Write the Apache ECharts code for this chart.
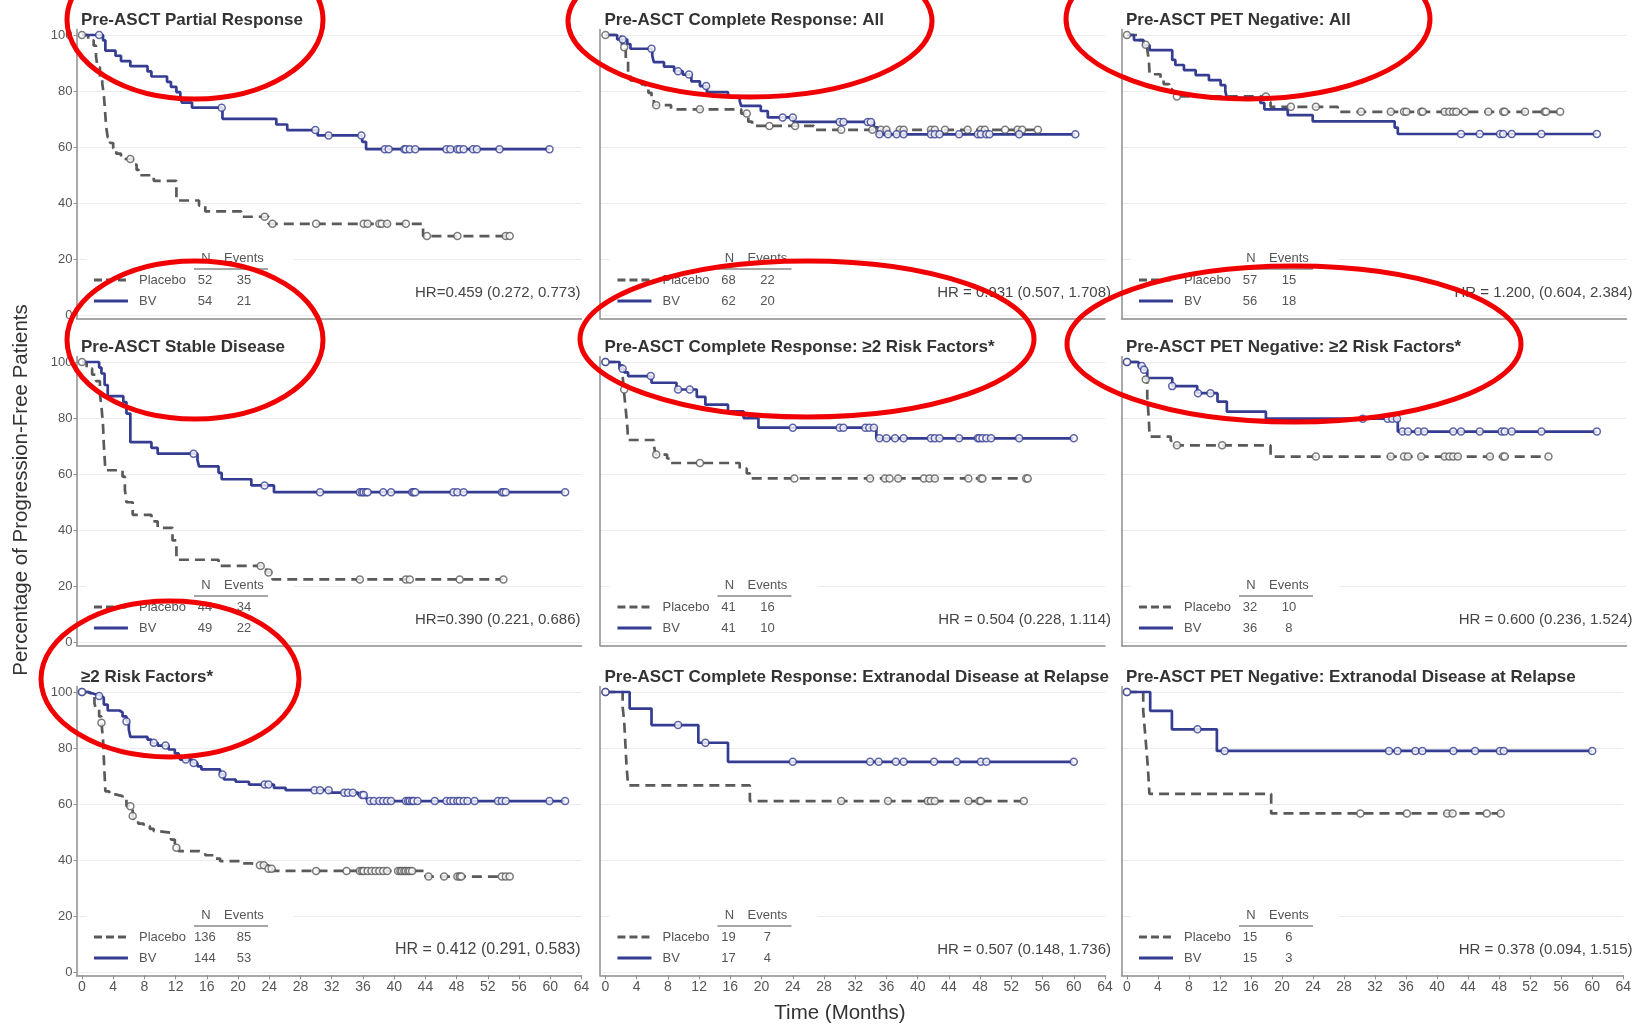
<!DOCTYPE html>
<html>
<head>
<meta charset="utf-8">
<script src="https://cdn.jsdelivr.net/npm/echarts@6.0.0/dist/echarts.min.js"></script>
<style>
html,body{margin:0;padding:0;background:#fff}
#main{width:1634px;height:1029px}
</style>
</head>
<body>
<div id="main"></div>
<script>
// months / percent progression-free
// T = event times, S = survival after each step, C = censor times

// Pre-ASCT Partial Response
const prPlcT = [0, 0.8, 1.5, 1.8, 2.0, 2.3, 2.6, 2.8, 2.9, 3.0, 3.1, 3.3, 3.6, 4.0, 4.4, 5.0, 6.5, 7.0, 7.3, 9.2, 12.1, 15.0, 15.8, 20.4, 23.9, 43.7, 54.8]
const prPlcS = [100, 98.1, 96.2, 92.3, 88.5, 84.6, 82.7, 78.8, 75.0, 71.2, 67.3, 63.5, 61.5, 59.6, 57.7, 55.8, 53.8, 51.9, 50.0, 48.0, 41.0, 39.2, 37.1, 35.2, 32.7, 28.3, 28.3]
const prPlcC = [0, 6.2, 23.4, 24.4, 30.0, 36.1, 36.6, 38.1, 38.4, 39.1, 41.5, 44.2, 48.1, 54.3, 54.8]
const prBvT = [0, 2.7, 3.0, 4.3, 5.0, 6.2, 8.4, 8.9, 10.9, 11.4, 12.1, 12.6, 12.8, 14.1, 18.0, 24.9, 26.3, 30.2, 35.9, 36.4, 59.9]
const prBvS = [100, 98.1, 94.4, 92.6, 90.7, 88.9, 87.0, 85.2, 83.3, 81.5, 79.6, 77.8, 75.9, 74.1, 70.1, 68.1, 66.1, 64.2, 61.9, 59.3, 59.3]
const prBvC = [2.2, 17.9, 29.9, 31.6, 35.8, 38.8, 39.3, 41.3, 41.5, 42.0, 42.7, 46.7, 47.2, 48.1, 48.4, 48.9, 50.1, 50.6, 53.5, 59.9]

// Pre-ASCT Complete Response: All
const crPlcT = [0, 2.0, 2.2, 2.6, 2.9, 3.2, 4.6, 5.1, 5.5, 5.9, 6.2, 8.4, 17.4, 18.3, 18.8, 26.7, 55.4]
const crPlcS = [100, 98.5, 95.6, 91.2, 86.8, 83.8, 82.4, 80.9, 79.4, 77.9, 75.0, 73.5, 72.0, 69.1, 67.6, 66.2, 66.2]
const crPlcC = [0, 2.4, 6.5, 12.1, 18.1, 21.0, 24.3, 30.2, 34.2, 35.3, 36.0, 37.7, 38.2, 41.7, 42.2, 43.5, 46.4, 48.1, 48.6, 51.2, 52.8, 53.4, 55.4]
const crBvT = [0, 1.5, 2.8, 3.2, 6.0, 6.2, 7.5, 8.8, 9.9, 11.0, 12.1, 13.0, 15.7, 17.2, 17.4, 19.9, 20.8, 24.1, 34.4, 34.9, 60.2]
const crBvS = [100, 98.4, 96.8, 95.1, 92.6, 90.3, 88.7, 87.1, 85.9, 83.5, 81.8, 79.6, 78.0, 76.4, 74.7, 72.9, 70.6, 69.0, 67.1, 64.6, 64.6]
const crBvC = [2.2, 5.9, 9.3, 10.7, 12.9, 22.7, 24.0, 30.0, 30.5, 33.6, 34.0, 35.1, 36.2, 37.3, 38.2, 41.7, 42.2, 42.8, 45.3, 47.7, 48.1, 48.8, 49.2, 53.0, 60.2]

// Pre-ASCT PET Negative: All
const petPlcT = [0, 1.5, 2.1, 2.6, 2.8, 2.9, 4.3, 4.7, 5.4, 5.8, 6.2, 18.0, 18.4, 27.0, 55.5]
const petPlcS = [100, 98.2, 96.5, 94.7, 91.2, 86.0, 84.2, 82.5, 80.7, 79.8, 78.1, 76.1, 74.4, 72.6, 72.6]
const petPlcC = [0, 2.4, 6.4, 17.8, 21.0, 24.2, 30.0, 33.8, 35.5, 35.8, 37.7, 37.9, 40.7, 41.3, 41.8, 42.2, 43.3, 46.3, 48.2, 48.4, 51.0, 53.5, 53.7, 55.5]
const petBvT = [0, 0.9, 2.1, 2.9, 5.8, 6.2, 7.3, 8.8, 10.5, 12.0, 12.6, 12.8, 17.1, 17.6, 20.6, 23.8, 34.3, 34.7, 60.2]
const petBvS = [100, 98.2, 96.4, 94.6, 91.1, 89.3, 87.5, 85.7, 83.9, 82.1, 80.0, 77.6, 75.8, 73.5, 71.4, 69.2, 67.0, 64.7, 64.7]
const petBvC = [42.8, 45.2, 47.8, 48.2, 49.3, 53.1, 60.2]

// Pre-ASCT Stable Disease
const sdPlcT = [0, 0.6, 1.3, 1.8, 2.3, 2.5, 2.7, 2.8, 3.0, 5.2, 5.5, 5.7, 6.5, 8.9, 9.7, 11.6, 12.1, 17.5, 23.6, 24.4, 54.0]
const sdPlcS = [100, 97.7, 95.5, 93.2, 88.6, 84.1, 77.3, 70.5, 61.4, 59.1, 54.5, 50.0, 45.5, 43.2, 40.9, 36.4, 29.5, 27.3, 25.0, 22.5, 22.5]
const sdPlcC = [0, 22.9, 23.9, 35.6, 41.5, 42.0, 48.4, 54.0]
const sdBvT = [0, 2.2, 2.5, 2.9, 3.3, 5.3, 5.7, 6.2, 8.9, 9.7, 14.8, 15.0, 17.5, 17.9, 21.7, 24.6, 61.9]
const sdBvS = [100, 98.0, 95.9, 91.8, 87.8, 85.7, 81.6, 71.4, 69.4, 67.3, 65.0, 62.8, 60.5, 58.2, 56.0, 53.6, 53.6]
const sdBvC = [14.3, 23.4, 30.5, 35.6, 35.9, 36.1, 36.4, 36.6, 38.6, 39.6, 42.3, 42.5, 42.7, 47.6, 48.1, 48.9, 53.8, 54.0, 54.3, 61.9]

// Pre-ASCT Complete Response: >=2 Risk Factors
const cr2PlcT = [0, 1.8, 2.2, 2.35, 2.6, 2.8, 2.9, 6.2, 6.4, 7.9, 8.4, 17.2, 18.1, 18.5, 54.1]
const cr2PlcS = [100, 98.8, 95.1, 90.2, 82.9, 77.0, 72.2, 70.4, 67.0, 65.6, 64.0, 62.0, 60.3, 58.5, 58.5]
const cr2PlcC = [0, 2.4, 6.5, 12.1, 24.2, 33.9, 35.8, 36.4, 37.5, 40.8, 41.5, 42.2, 46.5, 48.1, 48.3, 53.9, 54.1]
const cr2BvT = [0, 1.8, 2.4, 2.9, 5.9, 9.1, 11.7, 12.8, 15.7, 17.7, 19.6, 34.7, 60.0]
const cr2BvS = [100, 97.6, 96.3, 95.0, 92.6, 90.2, 87.6, 84.8, 82.4, 80.0, 76.6, 72.8, 72.8]
const cr2BvC = [0, 2.2, 5.8, 9.3, 10.8, 24.0, 30.0, 30.5, 33.3, 33.8, 34.4, 35.1, 36.0, 37.1, 38.2, 41.7, 42.2, 42.8, 45.3, 47.7, 47.9, 48.3, 48.8, 49.4, 53.0, 60.0]

// Pre-ASCT PET Negative: >=2 Risk Factors
const pet2PlcT = [0, 1.5, 2.3, 2.6, 2.8, 2.9, 5.6, 6.0, 18.4, 54.0]
const pet2PlcS = [100, 98.4, 93.8, 87.5, 79.7, 73.4, 71.9, 70.3, 66.3, 66.3]
const pet2PlcC = [0, 2.4, 6.4, 12.2, 24.2, 33.8, 35.5, 36.0, 37.7, 40.7, 41.3, 41.8, 42.4, 46.5, 48.2, 48.4, 54.0]
const pet2BvT = [0, 1.5, 2.1, 2.6, 5.8, 9.0, 11.6, 12.8, 17.8, 34.7, 60.2]
const pet2BvS = [100, 98.6, 97.2, 94.3, 91.4, 88.9, 85.9, 82.3, 79.8, 75.2, 75.2]
const pet2BvC = [0, 1.9, 2.2, 5.8, 9.1, 10.7, 30.2, 33.4, 34.0, 34.6, 35.3, 36.0, 37.3, 38.1, 41.8, 42.8, 45.2, 48.0, 48.4, 49.3, 53.1, 60.2]

// >=2 Risk Factors
const rfPlcT = [0, 0.8, 1.3, 1.6, 1.8, 2.2, 2.5, 2.6, 2.7, 2.8, 2.9, 3.0, 3.5, 4.3, 5.2, 5.7, 6.5, 6.7, 7.2, 7.9, 8.7, 9.2, 9.7, 11.4, 11.9, 12.4, 15.0, 15.8, 17.0, 17.7, 20.4, 21.7, 23.9, 24.4, 44.0, 54.8]
const rfPlcS = [100, 99.3, 98.5, 96.0, 93.7, 91.3, 89.0, 86.0, 83.0, 76.5, 70.5, 64.6, 63.5, 62.9, 61.7, 59.3, 55.8, 54.3, 53.1, 52.2, 51.2, 50.4, 49.8, 47.4, 44.5, 43.3, 42.6, 41.8, 40.6, 39.7, 38.9, 38.2, 37.0, 36.2, 34.2, 34.2]
const rfPlcC = [0, 2.5, 6.2, 6.5, 12.1, 22.8, 23.3, 23.9, 24.3, 30.0, 33.9, 35.6, 35.9, 36.1, 36.6, 37.1, 37.6, 38.1, 38.6, 39.1, 40.5, 40.8, 41.0, 41.3, 41.5, 41.8, 42.0, 42.3, 44.4, 46.4, 48.1, 48.4, 48.6, 53.8, 54.3, 54.8]
const rfBvT = [0, 0.8, 1.6, 2.5, 2.8, 3.3, 4.8, 5.2, 5.7, 6.0, 6.2, 8.4, 8.9, 9.7, 11.1, 11.9, 12.4, 12.6, 14.1, 14.8, 15.3, 17.7, 18.2, 19.7, 21.4, 24.6, 26.1, 31.7, 35.4, 36.4, 36.6, 61.9]
const rfBvS = [100, 99.3, 98.6, 97.9, 95.5, 93.4, 92.7, 91.3, 89.5, 86.6, 84.0, 83.0, 81.9, 80.9, 79.5, 78.1, 76.9, 75.9, 74.7, 73.5, 72.4, 70.6, 68.8, 68.0, 67.0, 65.8, 65.0, 64.1, 63.3, 62.3, 61.1, 61.1]
const rfBvC = [0, 2.2, 5.7, 9.2, 10.7, 13.3, 14.3, 18.0, 23.4, 23.9, 29.8, 30.5, 31.6, 33.6, 34.1, 34.7, 35.9, 36.1, 36.9, 37.4, 38.1, 38.6, 39.1, 39.6, 41.5, 41.8, 42.0, 42.3, 42.5, 43.0, 45.2, 46.7, 47.2, 47.6, 48.1, 48.4, 48.9, 49.4, 50.3, 53.3, 53.8, 54.3, 59.9, 61.9]

// Pre-ASCT Complete Response: Extranodal Disease at Relapse
const crExPlcT = [0, 2.2, 2.4, 2.5, 2.6, 2.7, 2.9, 18.5, 53.6]
const crExPlcS = [100, 94.7, 89.5, 84.2, 78.9, 73.7, 66.7, 61.1, 61.1]
const crExPlcC = [0, 30.2, 36.2, 41.3, 41.7, 42.2, 46.5, 47.9, 48.1, 53.6]
const crExBvT = [0, 3.1, 5.9, 11.9, 15.7, 60.0]
const crExBvS = [100, 94.1, 88.2, 81.9, 75.1, 75.1]
const crExBvC = [0, 9.3, 12.8, 24.0, 33.9, 35.0, 37.2, 38.2, 42.1, 45.0, 48.1, 48.8, 60.0]

// Pre-ASCT PET Negative: Extranodal Disease at Relapse
const petExPlcT = [0, 2.1, 2.3, 2.5, 2.7, 2.9, 18.6, 48.2]
const petExPlcS = [100, 93.3, 86.7, 80.0, 73.3, 63.7, 56.7, 56.7]
const petExPlcC = [0, 30.1, 36.1, 41.3, 42.0, 46.4, 48.2]
const petExBvT = [0, 3.0, 5.8, 11.6, 60.0]
const petExBvS = [100, 93.3, 86.7, 79.0, 79.0]
const petExBvC = [0, 9.1, 12.6, 33.8, 34.9, 37.2, 38.1, 42.1, 44.9, 48.1, 48.6, 60.0]

const xTicks = [0, 4, 8, 12, 16, 20, 24, 28, 32, 36, 40, 44, 48, 52, 56, 60, 64]
const yTicks = [0, 20, 40, 60, 80, 100]

const panels = [
  {title:'Pre-ASCT Partial Response', hr:'HR=0.459 (0.272, 0.773)', n:[52,54], ev:[35,21], plc:[prPlcT,prPlcS,prPlcC], bv:[prBvT,prBvS,prBvC]},
  {title:'Pre-ASCT Complete Response: All', hr:'HR = 0.931 (0.507, 1.708)', n:[68,62], ev:[22,20], plc:[crPlcT,crPlcS,crPlcC], bv:[crBvT,crBvS,crBvC]},
  {title:'Pre-ASCT PET Negative: All', hr:'HR = 1.200, (0.604, 2.384)', n:[57,56], ev:[15,18], plc:[petPlcT,petPlcS,petPlcC], bv:[petBvT,petBvS,petBvC]},
  {title:'Pre-ASCT Stable Disease', hr:'HR=0.390 (0.221, 0.686)', n:[44,49], ev:[34,22], plc:[sdPlcT,sdPlcS,sdPlcC], bv:[sdBvT,sdBvS,sdBvC]},
  {title:'Pre-ASCT Complete Response: \u22652 Risk Factors*', hr:'HR = 0.504 (0.228, 1.114)', n:[41,41], ev:[16,10], plc:[cr2PlcT,cr2PlcS,cr2PlcC], bv:[cr2BvT,cr2BvS,cr2BvC]},
  {title:'Pre-ASCT PET Negative: \u22652 Risk Factors*', hr:'HR = 0.600 (0.236, 1.524)', n:[32,36], ev:[10,8], plc:[pet2PlcT,pet2PlcS,pet2PlcC], bv:[pet2BvT,pet2BvS,pet2BvC]},
  {title:'\u22652 Risk Factors*', hr:'HR = 0.412 (0.291, 0.583)', hrSize:16, n:[136,144], ev:[85,53], plc:[rfPlcT,rfPlcS,rfPlcC], bv:[rfBvT,rfBvS,rfBvC]},
  {title:'Pre-ASCT Complete Response: Extranodal Disease at Relapse', hr:'HR = 0.507 (0.148, 1.736)', n:[19,17], ev:[7,4], plc:[crExPlcT,crExPlcS,crExPlcC], bv:[crExBvT,crExBvS,crExBvC]},
  {title:'Pre-ASCT PET Negative: Extranodal Disease at Relapse', hr:'HR = 0.378 (0.094, 1.515)', n:[15,15], ev:[6,3], plc:[petExPlcT,petExPlcS,petExPlcC], bv:[petExBvT,petExBvS,petExBvC]}
]

// red annotation ellipses drawn over the figure
const ellipses = [
  [195, 20, 128, 79], [750, 21, 182, 76], [1248, 19, 182, 80],
  [195, 340, 128, 79], [807, 339, 227, 78], [1294, 344, 227, 78],
  [170, 679, 129, 78]
]

const FONT = '"Liberation Sans", Arial, sans-serif'
const BLUE = '#343d92'
const GRAY = '#5a5a5a'
const colLeft = [76.5, 600, 1121.5]
const hrShift = [-1, 6, 6]
const rowY100 = [35, 362, 692]
const gridW = 505, pxPct = 2.805
const xMin = -0.7, xMax = 64, yMin = -1, yMax = 102

const xAt = (c, m) => colLeft[c] + (m - xMin) * gridW / (xMax - xMin)

function survAt(T, S, t){
  var v = S[0]
  for(var i = 0; i < T.length; i++){
    if(T[i] <= t) v = S[i]
  }
  return v
}

var grids = [], xAxes = [], yAxes = [], series = [], graphics = []

panels.forEach((p, i) => {
  var r = Math.floor(i / 3), c = i % 3
  var y100 = rowY100[r]
  grids.push({
    left: colLeft[c], width: gridW,
    top: y100 - (yMax - 100) * pxPct, height: (yMax - yMin) * pxPct
  })
  xAxes.push({
    gridIndex: i, type: 'value', min: xMin, max: xMax,
    axisLine: {show: true, onZero: false, lineStyle: {color: '#8c8c8c', width: 1.5}},
    axisTick: {show: r === 2, customValues: xTicks, length: 4, lineStyle: {color: '#8c8c8c'}},
    axisLabel: {show: r === 2, customValues: xTicks, color: '#555', fontSize: 14, fontFamily: FONT, margin: 5},
    splitLine: {show: false}
  })
  yAxes.push({
    gridIndex: i, type: 'value', min: yMin, max: yMax,
    axisLine: {show: true, onZero: false, lineStyle: {color: '#8c8c8c', width: 1.5}},
    axisTick: {show: c === 0, customValues: yTicks, length: 3, lineStyle: {color: '#8c8c8c'}},
    axisLabel: {show: c === 0, customValues: yTicks, color: '#555', fontSize: 13, fontFamily: FONT, margin: 4},
    splitLine: {show: true, lineStyle: {color: '#ececec', width: 1}}
  })

  var arms = [
    {d: p.plc, color: GRAY, type: [10, 6]},
    {d: p.bv, color: BLUE, type: 'solid'}
  ]
  arms.forEach((a) => {
    var T = a.d[0], S = a.d[1]
    series.push({
      type: 'line', xAxisIndex: i, yAxisIndex: i, step: 'end', showSymbol: false,
      data: T.map((t, k) => [t, S[k]]),
      lineStyle: {color: a.color, width: 2.7, type: a.type}, z: 2
    })
  })
  arms.forEach((a) => {
    var T = a.d[0], S = a.d[1], C = a.d[2]
    series.push({
      type: 'scatter', xAxisIndex: i, yAxisIndex: i, symbol: 'circle', symbolSize: 7,
      data: C.map((t) => [t, survAt(T, S, t)]),
      itemStyle: {color: '#fff', borderColor: a.color, borderWidth: 1.5}, z: 3
    })
  })

  // title, N/Events table, HR
  var x0 = xAt(c, 0), x64 = xAt(c, 64)
  var txt = (x, y, s, font, align, fill) => ({type: 'text', x: x, y: y, z: 20,
    style: {text: s, fill: fill || '#555', font: font || ('13px ' + FONT), textAlign: align || 'left', textVerticalAlign: 'middle'}})
  graphics.push(txt(x0 - 1, y100 - 15, p.title, 'bold 17px ' + FONT, 'left', '#333'))
  graphics.push({type: 'rect', z: 10, shape: {x: x0 + 4, y: y100 + 219, width: 208, height: 57}, style: {fill: '#fff'}})
  graphics.push(txt(x0 + 124, y100 + 223, 'N', null, 'center'))
  graphics.push(txt(x0 + 162, y100 + 223, 'Events', null, 'center'))
  graphics.push({type: 'line', z: 20, shape: {x1: x0 + 112, y1: y100 + 234, x2: x0 + 186, y2: y100 + 234}, style: {stroke: '#888', lineWidth: 1.5}})
  var rows = [['Placebo', GRAY, [8, 4], 245], ['BV', BLUE, null, 266]]
  rows.forEach((rw, k) => {
    var yy = y100 + rw[3]
    graphics.push({type: 'line', z: 20, shape: {x1: x0 + 12, y1: yy, x2: x0 + 46, y2: yy}, style: {stroke: rw[1], lineWidth: 3, lineDash: rw[2]}})
    graphics.push(txt(x0 + 57, yy, rw[0]))
    graphics.push(txt(x0 + 123, yy, String(p.n[k]), null, 'center'))
    graphics.push(txt(x0 + 162, yy, String(p.ev[k]), null, 'center'))
  })
  graphics.push(txt(x64 + hrShift[c], y100 + 258, p.hr, (p.hrSize || 15) + 'px ' + FONT, 'right', '#444'))
})

graphics.push({type: 'text', x: 840, y: 1013, z: 20,
  style: {text: 'Time (Months)', fill: '#333', font: '20.5px ' + FONT, textAlign: 'center', textVerticalAlign: 'middle'}})
graphics.push({type: 'text', x: 21, y: 490, rotation: Math.PI / 2, z: 20,
  style: {text: 'Percentage of Progression-Free Patients', fill: '#333', font: '20.5px ' + FONT, textAlign: 'center', textVerticalAlign: 'middle'}})

ellipses.forEach((e) => {
  graphics.push({type: 'ellipse', z: 100, shape: {cx: e[0], cy: e[1], rx: e[2], ry: e[3]},
    style: {fill: 'none', stroke: '#f00000', lineWidth: 5}})
})

var chart = echarts.init(document.getElementById('main'))
chart.setOption({
  animation: false,
  backgroundColor: '#fff',
  grid: grids,
  xAxis: xAxes,
  yAxis: yAxes,
  series: series,
  graphic: {elements: graphics}
})
</script>
</body>
</html>
